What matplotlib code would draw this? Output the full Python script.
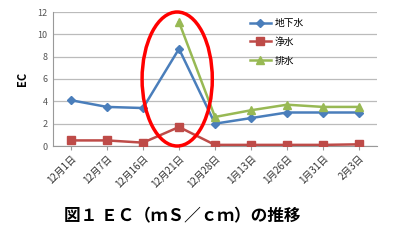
import matplotlib
matplotlib.use("Agg")
import matplotlib.pyplot as plt
from matplotlib.patches import Ellipse
import numpy as np

plt.rcParams['font.family'] = ['Noto Sans CJK JP', 'DejaVu Sans']

dates = ["12月1日", "12月7日", "12月16日", "12月21日", "12月28日", "1月13日", "1月26日", "1月31日", "2月3日"]
groundwater = [4.1, 3.5, 3.4, 8.7, 2.0, 2.5, 3.0, 3.0, 3.0]
purified = [0.5, 0.5, 0.3, 1.7, 0.1, 0.1, 0.1, 0.1, 0.15]
drain_dates = dates[3:]
drainage = [11.1, 2.6, 3.2, 3.7, 3.5, 3.5]
yticks = [0, 2, 4, 6, 8, 10, 12]

fig = plt.figure(figsize=(4, 2.4), dpi=100)
ax = fig.add_axes([53/400, 1-146/240, (377-53)/400, (146-12)/240])

x = np.arange(len(dates))
xd = np.arange(3, len(dates))
ax.plot(x, groundwater, color='#4A7EBB', marker='D', markersize=4.5, lw=1.8, label='地下水', zorder=3)
ax.plot(x, purified, color='#BE4B48', marker='s', markersize=5.5, lw=1.8, label='浄水', zorder=3)
ax.plot(xd, drainage, color='#98B954', marker='^', markersize=6, lw=1.8, label='排水', zorder=3)

ax.set_xlim(-0.5, len(dates) - 0.5)
ax.set_ylim(0, 12)
ax.set_yticks(yticks)
ax.set_xticks(x)
ax.set_xticklabels(dates, rotation=45, ha='right', rotation_mode='anchor', fontsize=7, color='#333333')
ax.tick_params(axis='y', labelsize=6.5, colors='#555555', length=0, pad=4)
ax.tick_params(axis='x', length=3, color='#999999', pad=2)
ax.grid(axis='y', color='#BBBBBB', lw=0.9)
ax.set_axisbelow(True)
for s in ['top', 'right']:
    ax.spines[s].set_visible(False)
ax.spines['left'].set_color('#999999')
ax.spines['bottom'].set_color('#999999')
ax.set_ylabel('EC', fontsize=8, fontweight='bold', labelpad=6)

ell = Ellipse((2.95, 6.0), width=1.95, height=12.0, fill=False, edgecolor='#FF0000', lw=2.5, clip_on=False, zorder=4)
ax.add_patch(ell)

leg = ax.legend(loc='upper left', bbox_to_anchor=(0.58, 1.02), frameon=False, fontsize=7,
                handlelength=2.2, labelspacing=0.9, handletextpad=0.4)

fig.text(0.16, 0.1, '図１ ＥＣ（ｍＳ／ｃｍ）の推移', fontsize=12, fontweight='bold', ha='left', va='center')

fig.savefig('out.png', dpi=100)
